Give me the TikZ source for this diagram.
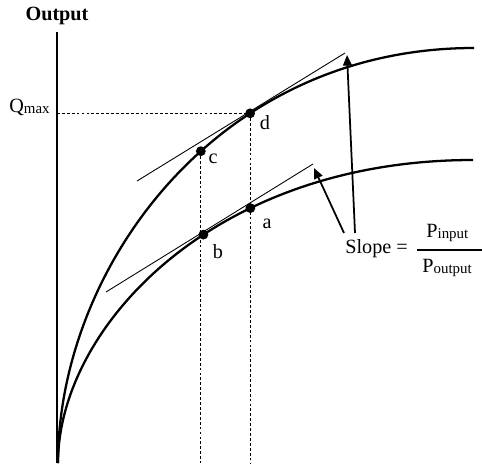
\documentclass[tikz,border=0pt]{standalone}
\usepackage{fontspec}
\setmainfont{Liberation Serif}
\usetikzlibrary{arrows.meta}

\newcommand{\subtxt}[1]{\raisebox{-1pt}{\fontsize{8.5}{9}\selectfont #1}}

\begin{document}
\begin{tikzpicture}[x=0.02cm,y=-0.02cm,
  curve/.style={line width=1.3pt},
  guide/.style={dash pattern=on 1.6pt off 1.2pt, line width=0.45pt},
  tangent/.style={line width=0.5pt},
  pointer/.style={line width=1pt,-{Triangle[length=6pt,width=5pt]}},
  dot/.style={circle,fill,inner sep=0pt,minimum size=5.6pt},
  lbl/.style={inner sep=0pt,font=\fontsize{11.5}{13}\selectfont}]
  \useasboundingbox (0,0) rectangle (482,463);
  % Axis
  \coordinate (O) at (58,463);
  \draw[line width=1.1pt] (57,463) -- (57,32) coordinate (top);
  \node[lbl,font=\bfseries\fontsize{11.5}{13}\selectfont] (ylabel) at (57,16) {Output};
  % Curves
  \draw[curve] (O) .. controls (58,270) and (215,48) .. (474,48)
    coordinate[pos=0.57] (c) coordinate[pos=0.665] (d);
  \draw[curve] (O) .. controls (58,330) and (210,160) .. (473,160)
    coordinate[pos=0.58] (b) coordinate[pos=0.67] (a);
  % Q max
  \node[lbl,anchor=base east] (qmax) at (50,112) {Q\subtxt{max}};
  \draw[guide] (d -| top) -- (d);
  \draw[guide] (c) -- (c |- O);
  \draw[guide] (d) -- (d |- O);
  % Tangents
  \coordinate (tu1) at (137,181);
  \coordinate (tu2) at (345,53);
  \coordinate (tl1) at (106,292);
  \coordinate (tl2) at (313,164);
  \draw[tangent] (tu1) -- (tu2);
  \draw[tangent] (tl1) -- (tl2);
  % Points
  \foreach \p in {a,b,c,d} \node[dot] at (\p) {};
  \node[lbl] (la) at (267,224) {a};
  \node[lbl] (lb) at (218,252) {b};
  \node[lbl] (lc) at (213,159) {c};
  \node[lbl] (ld) at (265,123) {d};
  % Slope
  \node[lbl,anchor=base west] (slope) at (345,253) {Slope =};
  \node[lbl,anchor=base west] (pin) at (426,237) {P\subtxt{input}};
  \node[lbl,anchor=base west] (pout) at (422,272) {P\subtxt{output}};
  \coordinate (barL) at (417,250);
  \coordinate (barR) at (482,250);
  \draw[line width=1.1pt] (barL) -- (barR);
  \coordinate (s1) at (344,233);
  \coordinate (s2) at (355,233);
  \coordinate (tipL) at (314,168);
  \coordinate (tipU) at (347,55);
  \draw[pointer] (s1) -- (tipL);
  \draw[pointer] (s2) -- (tipU);
\end{tikzpicture}
\end{document}
